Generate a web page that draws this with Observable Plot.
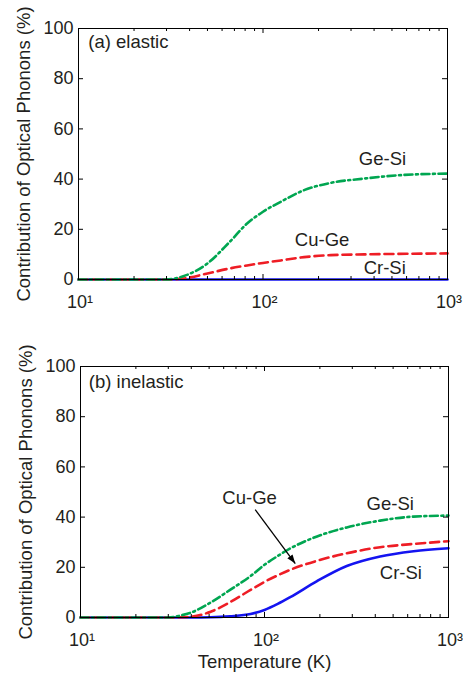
<!DOCTYPE html>
<html><head><meta charset="utf-8">
<script src="https://cdn.jsdelivr.net/npm/d3@7"></script>
<script src="https://cdn.jsdelivr.net/npm/@observablehq/plot@0.6"></script>
<style>
body{margin:0;background:#fff}
#chart{width:463px}
#chart svg{display:block}
</style>
</head><body><div id="chart"></div>
<script>
// ---- data ----
const seriesNames = ["Cr-Si", "Cu-Ge", "Ge-Si"];
const seriesColors = ["#1414f0", "#ee1d25", "#00a651"];
const seriesDash = [null, "9,5", "8,3.5,2,3.5"];

const tempA = [10, 30, 37, 50, 66, 82, 100, 125, 167, 233, 353, 535, 1000];
const elasticCrSi = [0, 0, 0, 0, 0, 0, 0, 0, 0, 0, 0, 0, 0];
const elasticCuGe = [0, 0, 0.4, 2.4, 4.4, 5.6, 6.6, 7.6, 8.9, 9.7, 10.0, 10.2, 10.4];
const elasticGeSi = [0, 0, 1.3, 6.4, 15, 22.3, 27, 31, 35.6, 38.5, 40.2, 41.5, 42.2];

const tempB = [10, 30, 35, 40, 51, 65, 84, 100, 118, 138, 193, 280, 425, 646, 1000];
const inelasticCrSi = [0, 0, 0, 0, 0.1, 0.5, 1.4, 3.0, 5.4, 8.1, 14.5, 20.5, 24.3, 26.4, 27.6];
const inelasticCuGe = [0, 0, 0.1, 0.3, 2.3, 6.1, 11, 14.2, 16.8, 19, 22.6, 25.6, 28, 29.3, 30.4];
const inelasticGeSi = [0, 0, 0.8, 2.0, 6.0, 11, 16.5, 21, 24.5, 27.5, 32.3, 35.9, 38.6, 40.2, 40.6];

const xMajorTicks = [10, 100, 1000];
const xTickLabels = ["10\u00b9", "10\u00b2", "10\u00b3"];
const xMinorTicks = [20, 30, 40, 50, 60, 70, 80, 90, 200, 300, 400, 500, 600, 700, 800, 900];
const yTicks = [0, 20, 40, 60, 80, 100];

const yTitle = "Contribution of Optical Phonons (%)";
const xTitle = "Temperature (K)";

const labelsA = [
  {T: 444, pct: 47.9, text: "Ge-Si"},
  {T: 209, pct: 15.9, text: "Cu-Ge"},
  {T: 457, pct: 4.4, text: "Cr-Si"}
];
const labelsB = [
  {T: 482, pct: 45.2, text: "Ge-Si"},
  {T: 83, pct: 47.7, text: "Cu-Ge"},
  {T: 551, pct: 17.6, text: "Cr-Si"}
];
const panelTitleA = {T: 11.3, pct: 94.4, text: "(a) elastic"};
const panelTitleB = {T: 11.1, pct: 93.6, text: "(b) inelastic"};
const arrowB = {T1: 89, p1: 43, T2: 147, p2: 21.5};

// ---- helpers ----
function rowsFor(temps, valuesList) {
  const rows = [];
  valuesList.forEach((vals, s) => {
    vals.forEach((v, i) => rows.push({T: temps[i], pct: v, series: seriesNames[s]}));
  });
  return rows;
}

function arrowHead(color) {
  const m = d3.create("svg:marker")
    .attr("viewBox", "-10 -5 10 10")
    .attr("markerWidth", 9)
    .attr("markerHeight", 9)
    .attr("markerUnits", "userSpaceOnUse")
    .attr("refX", 0).attr("refY", 0)
    .attr("orient", "auto");
  m.append("path").attr("d", "M-10,-3.6L0,0L-10,3.6Z").attr("fill", color).attr("stroke", "none");
  return m.node();
}

const FONT = "'Liberation Sans', Arial, Helvetica, sans-serif";
const TEXT = "#231f20";

function panel({height, marginTop, marginBottom, marginLeft, marginRight, rows, labels, title, arrow, xlab}) {
  const W = 463 - marginLeft - marginRight;
  const H = height - marginTop - marginBottom;
  const marks = [];
  seriesNames.forEach((name, s) => {
    marks.push(Plot.line(rows.filter(r => r.series === name), {
      x: "T", y: "pct", stroke: seriesColors[s], strokeWidth: 2.6,
      strokeDasharray: seriesDash[s], curve: "monotone-x"
    }));
  });
  marks.push(
    Plot.frame({stroke: "black", strokeWidth: 1}),
    Plot.tickX(xMajorTicks, {x: d => d, insetTop: H - 5, stroke: "black"}),
    Plot.tickX(xMajorTicks, {x: d => d, insetBottom: H - 5, stroke: "black"}),
    Plot.tickX(xMinorTicks, {x: d => d, insetTop: H - 3, stroke: "black"}),
    Plot.tickX(xMinorTicks, {x: d => d, insetBottom: H - 3, stroke: "black"}),
    Plot.tickY(yTicks, {y: d => d, insetRight: W - 5, stroke: "black"}),
    Plot.tickY(yTicks, {y: d => d, insetLeft: W - 5, stroke: "black"}),
    Plot.axisX(xMajorTicks, {tickSize: 0, tickPadding: 16, fontSize: 18, fill: TEXT, label: null,
      tickFormat: d => xTickLabels[xMajorTicks.indexOf(d)], dx: 1.5}),
    Plot.axisY(yTicks, {tickSize: 0, tickPadding: 5, fontSize: 18, fill: TEXT, label: null}),
    Plot.text(labels, {x: "T", y: "pct", text: "text", fontSize: 18.5, fill: TEXT}),
    Plot.text([title], {x: "T", y: "pct", text: "text", textAnchor: "start", fontSize: 18.5, fill: TEXT}),
    Plot.text([yTitle], {frameAnchor: "left", textAnchor: "middle", lineAnchor: "middle",
      rotate: -90, dx: -54, fontSize: 18.5, fill: TEXT})
  );
  if (arrow) {
    marks.push(Plot.link([arrow], {x1: "T1", y1: "p1", x2: "T2", y2: "p2",
      stroke: "black", strokeWidth: 1.3, markerEnd: arrowHead}));
  }
  if (xlab) {
    marks.push(Plot.text([xlab], {frameAnchor: "bottom", textAnchor: "middle", lineAnchor: "middle",
      dy: 45, fontSize: 18.5, fill: TEXT}));
  }
  return Plot.plot({
    width: 463, height, marginTop, marginBottom, marginLeft, marginRight,
    style: {fontFamily: FONT, background: "white", overflow: "visible"},
    x: {type: "log", domain: [10, 1000]},
    y: {domain: [0, 100]},
    marks
  });
}

const chart = document.getElementById("chart");
chart.appendChild(panel({
  height: 320, marginTop: 28, marginBottom: 41, marginLeft: 78, marginRight: 16,
  rows: rowsFor(tempA, [elasticCrSi, elasticCuGe, elasticGeSi]),
  labels: labelsA, title: panelTitleA
}));
chart.appendChild(panel({
  height: 355, marginTop: 46, marginBottom: 58, marginLeft: 80, marginRight: 15,
  rows: rowsFor(tempB, [inelasticCrSi, inelasticCuGe, inelasticGeSi]),
  labels: labelsB, title: panelTitleB, arrow: arrowB, xlab: xTitle
}));
</script>
</body></html>
